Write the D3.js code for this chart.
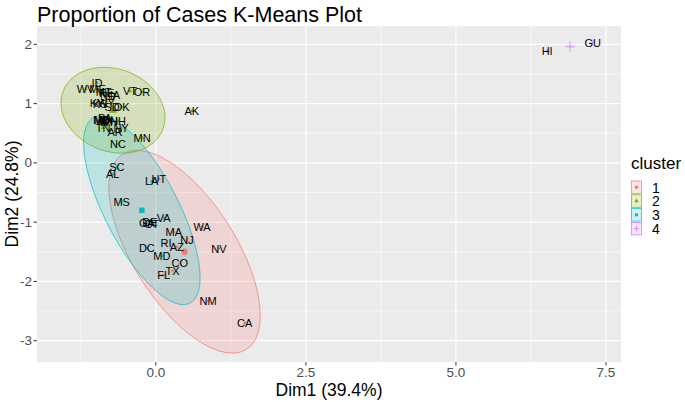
<!DOCTYPE html>
<html>
<head>
<meta charset="utf-8">
<script src="https://cdn.jsdelivr.net/npm/d3@7"></script>
<style>
  html, body { margin: 0; padding: 0; background: #ffffff; }
  svg { display: block; font-family: "Liberation Sans", Arial, sans-serif; }
</style>
</head>
<body>
<svg id="chart" width="685" height="402"></svg>
<script>
// ---- Data ----
const states = ["AL","AK","AZ","AR","CA","CO","CT","DE","FL","GA","HI","ID","IL","IN","IA","KS","KY","LA","ME","MD","MA","MI","MN","MS","MO","MT","NE","NV","NH","NJ","NM","NY","NC","ND","OH","OK","OR","PA","RI","SC","SD","TN","TX","UT","VT","VA","WA","WV","WI","WY","DC","GU"];
const dim1 = [-0.72,0.60,0.35,-0.68,1.48,0.40,-0.07,-0.10,0.13,-0.15,6.52,-0.98,-0.88,-0.80,-0.68,-0.93,-0.98,-0.07,-0.97,0.10,0.30,-0.93,-0.23,-0.57,-0.90,-0.87,-0.82,1.05,-0.63,0.52,0.87,-0.58,-0.63,-0.80,-0.77,-0.57,-0.23,-0.85,0.17,-0.65,-0.73,-0.88,0.28,0.05,-0.43,0.13,0.77,-1.17,-0.83,-0.83,-0.15,7.28];
const dim2 = [-0.19,0.88,-1.42,0.52,-2.70,-1.69,-1.03,-1.00,-1.89,-1.01,1.89,1.35,0.72,0.72,1.15,0.99,1.01,-0.31,1.25,-1.57,-1.17,0.72,0.42,-0.66,0.72,1.20,1.18,-1.45,0.71,-1.30,-2.33,0.59,0.32,1.13,0.71,0.94,1.20,0.76,-1.35,-0.07,0.94,0.59,-1.82,-0.27,1.21,-0.93,-1.08,1.25,0.69,1.01,-1.44,2.03];
const cluster = [3,2,1,2,1,1,3,3,1,1,4,2,2,2,2,2,2,3,2,3,1,2,2,3,2,2,2,1,2,1,1,2,2,2,2,2,2,2,1,3,2,2,1,1,2,3,1,2,2,2,3,4];
const clusterIds = ["1","2","3","4"];
const clusterColors = ["#F8766D","#7CAE00","#00BFC4","#C77CFF"];
const xTicks = [0, 2.5, 5, 7.5];
const xTickLabels = ["0.0","2.5","5.0","7.5"];
const yTicks = [-3,-2,-1,0,1,2];
const titleText = "Proportion of Cases K-Means Plot";
const xTitle = "Dim1 (39.4%)";
const yTitle = "Dim2 (24.8%)";
const legendTitle = "cluster";

// ---- Layout ----
const svg = d3.select("#chart");
const panel = {left: 37, right: 621, top: 26, bottom: 362};
const x = d3.scaleLinear().domain([-1.98, 7.75]).range([panel.left, panel.right]);
const y = d3.scaleLinear().domain([-3.36, 2.31]).range([panel.bottom, panel.top]);
const color = d3.scaleOrdinal().domain(clusterIds).range(clusterColors);

const data = states.map((s, i) => ({name: s, x: dim1[i], y: dim2[i], c: String(cluster[i])}));

// panel background
svg.append("rect").attr("x", panel.left).attr("y", panel.top)
  .attr("width", panel.right - panel.left).attr("height", panel.bottom - panel.top)
  .attr("fill", "#EBEBEB");

const gridG = svg.append("g");
// minor grid
const xMinor = xTicks.map(t => t - 1.25).concat([xTicks[xTicks.length-1] + 1.25]).filter(v => v > x.domain()[0] && v < x.domain()[1]);
const yMinor = yTicks.map(t => t - 0.5).concat([yTicks[yTicks.length-1] + 0.5]).filter(v => v > y.domain()[0] && v < y.domain()[1]);
gridG.selectAll(".xminor").data(xMinor).enter().append("line")
  .attr("x1", d => x(d)).attr("x2", d => x(d)).attr("y1", panel.top).attr("y2", panel.bottom)
  .attr("stroke", "#FFFFFF").attr("stroke-width", 0.6);
gridG.selectAll(".yminor").data(yMinor).enter().append("line")
  .attr("y1", d => y(d)).attr("y2", d => y(d)).attr("x1", panel.left).attr("x2", panel.right)
  .attr("stroke", "#FFFFFF").attr("stroke-width", 0.6);
gridG.selectAll(".xmajor").data(xTicks).enter().append("line")
  .attr("x1", d => x(d)).attr("x2", d => x(d)).attr("y1", panel.top).attr("y2", panel.bottom)
  .attr("stroke", "#FFFFFF").attr("stroke-width", 1.2);
gridG.selectAll(".ymajor").data(yTicks).enter().append("line")
  .attr("y1", d => y(d)).attr("y2", d => y(d)).attr("x1", panel.left).attr("x2", panel.right)
  .attr("stroke", "#FFFFFF").attr("stroke-width", 1.2);

// ---- Ellipses (normal 95% data ellipse, like stat_ellipse type="norm") ----
function qf2(p, d) { return (d / 2) * (Math.pow(1 - p, -2 / d) - 1); }
function ellipsePts(pts, level) {
  const n = pts.length;
  const mx = d3.mean(pts, d => d.x), my = d3.mean(pts, d => d.y);
  let sxx = 0, syy = 0, sxy = 0;
  pts.forEach(d => { sxx += (d.x-mx)**2; syy += (d.y-my)**2; sxy += (d.x-mx)*(d.y-my); });
  sxx /= (n-1); syy /= (n-1); sxy /= (n-1);
  const a = Math.sqrt(sxx), b = sxy / a, c = Math.sqrt(Math.max(syy - b*b, 0));
  const r = Math.sqrt(2 * qf2(level, n - 1));
  const out = [];
  for (let k = 0; k <= 51; k++) {
    const t = 2 * Math.PI * k / 51;
    out.push([mx + r * a * Math.cos(t), my + r * (b * Math.cos(t) + c * Math.sin(t))]);
  }
  return out;
}
const groups = d3.group(data, d => d.c);
const ellG = svg.append("g");
clusterIds.forEach(id => {
  const pts = groups.get(id);
  if (!pts || pts.length < 3) return;
  const e = ellipsePts(pts, 0.95);
  ellG.append("path")
    .attr("d", d3.line().x(d => x(d[0])).y(d => y(d[1])).curve(d3.curveLinearClosed)(e))
    .attr("fill", color(id)).attr("fill-opacity", 0.2)
    .attr("stroke", color(id)).attr("stroke-width", 0.7);
});

// ---- Point shapes ----
const symTypes = {"1": d3.symbolCircle, "2": d3.symbolTriangle, "3": d3.symbolSquare, "4": d3.symbolCross};
function drawShape(g, id, cx, cy, size) {
  if (id === "4") {
    const h = Math.sqrt(size) * 0.9;
    g.append("path").attr("d", `M${cx-h},${cy}H${cx+h}M${cx},${cy-h}V${cy+h}`)
      .attr("stroke", color(id)).attr("stroke-width", 0.8).attr("fill", "none");
  } else {
    g.append("path").attr("d", d3.symbol().type(symTypes[id]).size(size)())
      .attr("transform", `translate(${cx},${cy})`).attr("fill", color(id));
  }
}

const ptG = svg.append("g");
data.forEach(d => drawShape(ptG, d.c, x(d.x), y(d.y), 7));

// cluster centers
clusterIds.forEach(id => {
  const pts = groups.get(id);
  const cx = d3.mean(pts, d => d.x), cy = d3.mean(pts, d => d.y);
  drawShape(ptG, id, x(cx), y(cy), 30);
});

// labels
svg.append("g").selectAll("text").data(data).enter().append("text")
  .attr("x", d => x(d.x)).attr("y", d => y(d.y))
  .attr("text-anchor", "middle").attr("dominant-baseline", "central")
  .attr("font-size", "11px").attr("fill", "#000000")
  .text(d => d.name);

// ---- Axes ----
const axG = svg.append("g");
xTicks.forEach((t, i) => {
  axG.append("line").attr("x1", x(t)).attr("x2", x(t)).attr("y1", panel.bottom).attr("y2", panel.bottom + 3.5)
    .attr("stroke", "#333333").attr("stroke-width", 1);
  axG.append("text").attr("x", x(t)).attr("y", 377).attr("text-anchor", "middle")
    .attr("font-size", "13.5px").attr("fill", "#4D4D4D").text(xTickLabels[i]);
});
yTicks.forEach(t => {
  axG.append("line").attr("x1", panel.left - 3.5).attr("x2", panel.left).attr("y1", y(t)).attr("y2", y(t))
    .attr("stroke", "#333333").attr("stroke-width", 1);
  axG.append("text").attr("x", panel.left - 5).attr("y", y(t)).attr("text-anchor", "end")
    .attr("dominant-baseline", "central")
    .attr("font-size", "13.5px").attr("fill", "#4D4D4D").text(t);
});

// titles
svg.append("text").attr("x", panel.left).attr("y", 22).attr("font-size", "21.5px").attr("fill", "#000")
  .text(titleText);
svg.append("text").attr("x", (panel.left + panel.right) / 2).attr("y", 396).attr("text-anchor", "middle")
  .attr("font-size", "17.5px").attr("fill", "#000").text(xTitle);
svg.append("text").attr("transform", `translate(18,${(panel.top + panel.bottom) / 2}) rotate(-90)`)
  .attr("text-anchor", "middle").attr("font-size", "17.5px").attr("fill", "#000").text(yTitle);

// ---- Legend ----
const lg = svg.append("g");
lg.append("text").attr("x", 631).attr("y", 169).attr("font-size", "17px").attr("fill", "#000").text(legendTitle);
clusterIds.forEach((id, i) => {
  const top = 181 + i * 13.8;
  lg.append("rect").attr("x", 631.5).attr("y", top).attr("width", 10).attr("height", 12.5)
    .attr("fill", color(id)).attr("fill-opacity", 0.2).attr("stroke", color(id)).attr("stroke-width", 0.7);
  drawShape(lg, id, 636.5, top + 6.25, 9);
  lg.append("text").attr("x", 652).attr("y", top + 6.5).attr("dominant-baseline", "central")
    .attr("font-size", "14px").attr("fill", "#000").text(id);
});
</script>
</body>
</html>
